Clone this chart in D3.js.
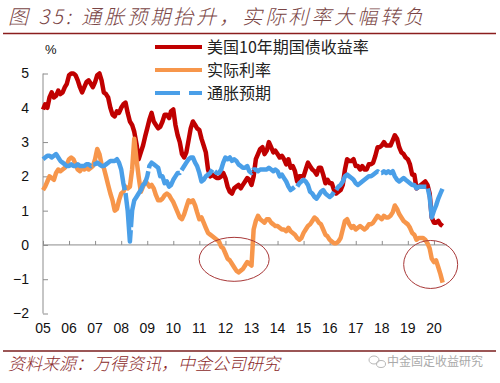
<!DOCTYPE html>
<html><head><meta charset="utf-8">
<script src="https://cdn.jsdelivr.net/npm/d3@7"></script>
<style>
html,body{margin:0;padding:0;background:#fff;}
svg{display:block;}
</style></head>
<body>
<svg id="c" width="500" height="383"></svg>
<script>
// ---- data (monthly, Apr 2005 - Aug 2020) ----
const startYear = 2005, startMonth = 3; // April 2005
const yield10y = [
 3.95,4.1,4.0,4.3,4.45,4.3,4.35,4.5,4.4,
 4.45,4.6,4.7,4.95,5.0,5.0,4.95,4.8,4.6,4.45,4.6,4.75,
 4.8,4.7,4.6,4.75,4.95,5.0,4.8,4.45,4.4,4.3,4.0,3.8,
 3.75,3.9,3.85,4.0,4.1,4.15,3.85,3.6,3.5,3.3,2.95,2.5,
 2.7,2.9,3.15,3.4,3.65,3.85,3.6,3.5,3.4,3.45,3.6,3.8,
 3.8,3.7,3.9,3.95,3.5,3.2,3.0,2.65,2.55,2.7,3.05,3.4,
 3.6,3.5,3.4,3.35,3.1,2.9,2.7,2.2,2.0,2.05,2.0,1.95,
 1.95,2.0,2.1,1.95,1.7,1.55,1.5,1.65,1.7,1.75,1.65,1.75,
 1.85,1.95,1.9,1.75,2.0,2.5,2.65,2.8,2.85,2.65,2.75,3.0,
 2.85,2.7,2.75,2.65,2.55,2.6,2.5,2.35,2.5,2.25,2.3,2.15,
 1.85,2.0,2.0,2.0,2.2,2.4,2.3,2.2,2.15,2.05,2.25,2.25,
 2.05,1.8,1.9,1.8,1.8,1.6,1.5,1.55,1.6,1.75,2.2,2.5,
 2.45,2.45,2.5,2.3,2.3,2.2,2.3,2.2,2.2,2.35,2.35,2.4,
 2.6,2.85,2.85,2.9,3.0,2.9,2.9,2.9,3.05,3.2,3.1,2.85,
 2.7,2.65,2.55,2.5,2.35,2.05,2.05,1.65,1.7,1.75,1.8,1.85,
 1.75,1.5,0.8,0.65,0.65,0.7,0.6,0.55
];
const realRate = [
 1.6,1.7,1.85,2.0,1.95,1.9,2.1,2.2,2.15,
 2.2,2.25,2.35,2.5,2.55,2.5,2.35,2.2,2.15,2.25,2.2,2.25,
 2.2,2.25,2.3,2.5,2.8,2.65,2.35,2.25,2.0,1.75,1.5,1.3,
 1.0,1.05,1.3,1.5,1.55,1.7,1.65,1.7,2.2,3.1,2.5,2.0,
 1.55,1.7,1.85,1.8,1.7,1.75,1.65,1.45,1.3,1.3,1.35,1.45,
 1.5,1.45,1.35,1.25,1.1,0.95,0.8,0.75,0.9,1.1,1.3,1.25,
 1.3,1.15,0.95,0.75,0.8,0.65,0.5,0.35,0.3,0.25,0.2,0.15,
 0.1,-0.05,-0.1,-0.25,-0.4,-0.45,-0.55,-0.65,-0.75,-0.8,-0.75,-0.7,
 -0.6,-0.5,-0.55,-0.6,0.45,0.7,0.85,0.75,0.7,0.65,0.75,0.75,
 0.65,0.6,0.55,0.55,0.5,0.45,0.45,0.4,0.5,0.4,0.35,0.3,
 0.2,0.15,0.2,0.35,0.45,0.55,0.6,0.7,0.8,0.75,0.65,0.6,
 0.45,0.3,0.25,0.15,0.1,0.05,0.05,0.1,0.2,0.45,0.7,0.75,
 0.6,0.5,0.55,0.45,0.5,0.55,0.5,0.45,0.5,0.6,0.6,0.65,
 0.75,0.85,0.8,0.75,0.85,0.8,0.8,0.85,0.95,1.15,1.05,0.9,
 0.8,0.7,0.65,0.6,0.5,0.35,0.3,0.15,0.2,0.2,0.2,0.15,
 0.05,-0.1,-0.4,-0.5,-0.45,-0.65,-0.85,-1.1
];
const inflationExp = [
 2.5,2.55,2.6,2.6,2.55,2.6,2.65,2.55,2.45,
 2.4,2.35,2.3,2.3,2.35,2.3,2.3,2.35,2.3,2.3,2.3,2.35,
 2.35,2.3,2.35,2.35,2.4,2.35,2.3,2.3,2.35,2.4,2.45,2.45,
 2.45,2.5,2.4,2.2,1.8,1.5,1.0,0.1,1.0,1.3,1.4,1.5,
 1.6,1.75,1.8,2.0,2.3,2.4,2.35,2.3,2.25,2.0,2.0,1.8,
 1.85,1.7,1.75,1.9,2.0,2.1,2.1,2.2,2.3,2.4,2.5,2.55,
 2.55,2.4,2.3,2.1,1.85,1.9,2.0,2.05,2.1,2.2,2.15,2.1,
 2.1,2.2,2.4,2.55,2.5,2.55,2.45,2.5,2.45,2.35,2.3,2.25,
 2.25,2.3,2.15,2.1,2.2,2.2,2.15,2.2,2.2,2.2,2.2,2.25,
 2.2,2.15,2.2,2.15,2.0,2.05,1.95,1.85,1.7,1.6,1.65,1.7,
 1.7,1.8,1.85,1.9,1.85,1.75,1.55,1.5,1.4,1.35,1.45,1.55,
 1.6,1.5,1.45,1.4,1.45,1.55,1.6,1.7,1.75,1.85,2.0,2.05,
 2.0,1.95,1.9,1.8,1.75,1.8,1.85,1.9,1.95,2.0,2.0,2.05,
 2.1,2.15,2.1,2.1,2.15,2.1,2.15,2.1,2.15,2.0,1.9,1.85,
 1.9,1.95,1.9,1.85,1.8,1.75,1.75,1.65,1.7,1.7,1.7,1.7,
 1.7,1.4,0.8,1.0,1.15,1.35,1.5,1.65
];
const seriesNames = ["美国10年期国债收益率", "实际利率", "通胀预期"];
const yTicks = [-2,-1,0,1,2,3,4,5];
const xTickYears = d3.range(2005, 2021);
const titleText = "图 35:  通胀预期抬升，实际利率大幅转负";
const sourceText = "资料来源：万得资讯，中金公司研究";
const watermarkText = "中金固定收益研究";

// ---- chart ----
const colors = ["#C00000", "#F7964B", "#4A9FE8"];
const svg = d3.select("#c");
const cjk = "'Noto Sans CJK SC', sans-serif";
const lat = "'Liberation Sans', Arial, sans-serif";

const dates = yield10y.map((_, i) => new Date(startYear, startMonth + i, 1));
const x = d3.scaleTime()
  .domain([new Date(startYear, startMonth, 1), new Date(2020, 9, 1)])
  .range([43, 447]);
const y = d3.scaleLinear().domain([-2, 5]).range([313.5, 73.5]);

// title
svg.append("text").attr("x", 8).attr("y", 24)
  .attr("font-family", cjk).attr("font-size", 20).attr("font-style", "italic")
  .attr("font-weight", 300).attr("letter-spacing", 3)
  .attr("fill", "#7A4545").text(titleText);
svg.append("line").attr("x1", 3).attr("x2", 496).attr("y1", 33.5).attr("y2", 33.5)
  .attr("stroke", "#8B1E1E").attr("stroke-width", 1.6);

// y axis
const gy = svg.append("g").attr("transform", "translate(43,0)")
  .call(d3.axisLeft(y).tickValues(yTicks).tickSize(-5).tickPadding(14).tickFormat(d3.format("d")));
gy.select(".domain").attr("stroke", "#8c8c8c").attr("d", `M0,${y(-2)}V${y(5)}`);
gy.selectAll(".tick line").attr("stroke", "#8c8c8c");
gy.selectAll("text").attr("font-family", lat).attr("font-size", 14).attr("fill", "#111");

svg.append("text").attr("x", 45).attr("y", 54).attr("font-family", lat)
  .attr("font-size", 13).attr("fill", "#111").text("%");

// x axis along zero
const xTicks = xTickYears.map(yr => new Date(yr, startMonth, 1));
const gx = svg.append("g").attr("transform", `translate(0,${y(0)})`)
  .call(d3.axisBottom(x).tickValues(xTicks).tickSize(-4).tickFormat(""));
gx.select(".domain").attr("stroke", "#8c8c8c").attr("d", `M43,0H447`);
gx.selectAll(".tick line").attr("stroke", "#8c8c8c");
// x labels at bottom
svg.append("g").selectAll("text").data(xTicks).join("text")
  .attr("x", d => x(d)).attr("y", 333).attr("text-anchor", "middle")
  .attr("font-family", lat).attr("font-size", 14).attr("fill", "#111")
  .text(d => d3.timeFormat("%y")(d));

// lines
const line = d3.line().x((d, i) => x(dates[i])).y(d => y(d));
const allSeries = [yield10y, realRate, inflationExp];
allSeries.forEach((s, k) => {
  svg.append("path").datum(s).attr("d", line)
    .attr("fill", "none").attr("stroke", colors[k]).attr("stroke-width", 4.5)
    .attr("stroke-linejoin", "round")
    .attr("stroke-dasharray", k === 2 ? "60,3" : null);
});

// ellipses
const ell = [
  {t: new Date(2012, 7, 1), v: -0.42, rx: 35, ry: 22},
  {t: new Date(2020, 1, 15), v: -0.57, rx: 27, ry: 24}
];
svg.append("g").selectAll("ellipse").data(ell).join("ellipse")
  .attr("cx", d => x(d.t)).attr("cy", d => y(d.v))
  .attr("rx", d => d.rx).attr("ry", d => d.ry)
  .attr("fill", "none").attr("stroke", "#A83838").attr("stroke-width", 1);

// legend
const lg = svg.append("g");
seriesNames.forEach((n, k) => {
  const yy = 47 + k * 23;
  lg.append("line").attr("x1", 155).attr("x2", 202).attr("y1", yy).attr("y2", yy)
    .attr("stroke", colors[k]).attr("stroke-width", 4)
    .attr("stroke-dasharray", k === 2 ? "25,9" : null);
  lg.append("text").attr("x", 207).attr("y", yy + 6)
    .attr("font-family", cjk).attr("font-size", 16).attr("fill", "#222").text(n);
});

// footer
svg.append("line").attr("x1", 3).attr("x2", 496).attr("y1", 351).attr("y2", 351)
  .attr("stroke", "#7A1E1E").attr("stroke-width", 1.6);
svg.append("text").attr("x", 8).attr("y", 370)
  .attr("font-family", cjk).attr("font-size", 17).attr("font-style", "italic")
  .attr("font-weight", 300).attr("fill", "#8B2A2A").text(sourceText);
// watermark
const wm = svg.append("g").attr("fill", "none").attr("stroke", "#b8b8b8").attr("stroke-width", 1);
wm.append("ellipse").attr("cx", 374).attr("cy", 360).attr("rx", 5).attr("ry", 4);
wm.append("ellipse").attr("cx", 381).attr("cy", 364).attr("rx", 4.5).attr("ry", 3.5);
svg.append("text").attr("x", 387).attr("y", 366)
  .attr("font-family", cjk).attr("font-size", 12).attr("fill", "#aaa").text(watermarkText);
</script>
</body></html>
